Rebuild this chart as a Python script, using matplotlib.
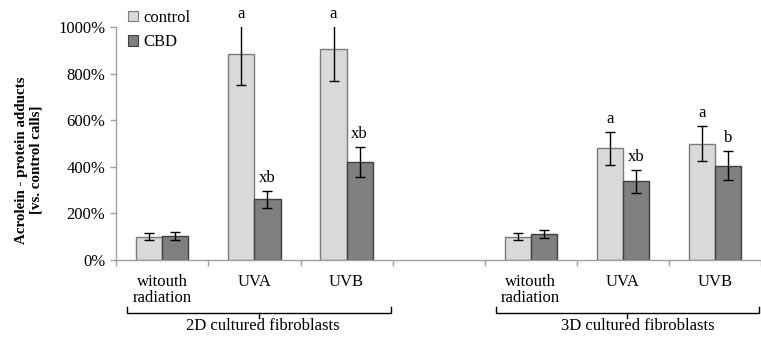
import numpy as np
import matplotlib
matplotlib.use("Agg")
import matplotlib.pyplot as plt
from matplotlib.patches import Patch
from matplotlib.ticker import FixedLocator, FuncFormatter
from matplotlib.transforms import blended_transform_factory, offset_copy

categories = ['witouth\nradiation', 'UVA', 'UVB', '', 'witouth\nradiation', 'UVA', 'UVB']
control = [100, 886, 908, np.nan, 100, 480, 500]
control_err = [15, 133, 137, np.nan, 15, 72, 75]
cbd = [105, 260, 420, np.nan, 110, 338, 405]
cbd_err = [17, 38, 64, np.nan, 17, 50, 62]
control_labels = ['', 'a', 'a', '', '', 'a', 'a']
cbd_labels = ['', 'xb', 'xb', '', '', 'xb', 'b']
group_names = ['2D cultured fibroblasts', '3D cultured fibroblasts']
series_names = ['control', 'CBD']
yticks = [0, 200, 400, 600, 800, 1000]

plt.rcParams['font.family'] = ['Liberation Serif', 'DejaVu Serif']

W, H = 761, 338
FS = 12
fig = plt.figure(figsize=(W / 100, H / 100), dpi=100)
ax = fig.add_axes([116.3 / W, 1 - 260 / H, 1 - 116.3 / W, (260 - 27.3) / H])

x = np.arange(len(categories))
bw = 0.283
c_light, c_dark = '#d9d9d9', '#7f7f7f'
ekw = dict(ecolor='black', elinewidth=1.0, capsize=3.5, capthick=1.0)
ax.bar(x - bw / 2, control, bw, yerr=control_err, color=c_light,
       edgecolor='#7a7a7a', linewidth=1.0, error_kw=ekw, zorder=2)
ax.bar(x + bw / 2, cbd, bw, yerr=cbd_err, color=c_dark,
       edgecolor='#404040', linewidth=1.0, error_kw=ekw, zorder=2)

ymax = 1000
ax.set_ylim(0, ymax)
ax.set_xlim(-0.5, 6.39)

# significance letters
toff = offset_copy(ax.transData, fig=fig, x=0, y=6.5, units='points')
for i in range(len(categories)):
    if control_labels[i]:
        ax.text(x[i] - bw / 2, min(control[i] + control_err[i], ymax), control_labels[i],
                ha='center', va='baseline', fontsize=FS, transform=toff)
    if cbd_labels[i]:
        ax.text(x[i] + bw / 2, min(cbd[i] + cbd_err[i], ymax), cbd_labels[i],
                ha='center', va='baseline', fontsize=FS, transform=toff)

# axes styling
for s in ['top', 'right']:
    ax.spines[s].set_visible(False)
for s in ['left', 'bottom']:
    ax.spines[s].set_color('#a0a0a0')
    ax.spines[s].set_linewidth(1.0)

ax.yaxis.set_major_locator(FixedLocator(yticks))
ax.yaxis.set_major_formatter(FuncFormatter(lambda v, p: f'{int(v)}%'))
ax.tick_params(axis='y', direction='out', length=4, width=1, color='#a0a0a0',
               labelsize=FS, pad=4)

ax.set_xticks(x)
ax.set_xticklabels(categories, fontsize=FS, linespacing=1.0)
ax.set_xticks(np.arange(-0.5, len(categories), 1.0), minor=True)
ax.tick_params(axis='x', which='major', length=0, pad=10)
ax.tick_params(axis='x', which='minor', direction='out', length=4, width=1,
               color='#a0a0a0')

# y label
fig.text(29 / W, 1 - 160 / H, 'Acrolein - protein adducts\n[vs. control calls]',
         rotation=90, ha='center', va='center', fontsize=10.8, fontweight='bold',
         multialignment='center', linespacing=1.2)

# legend
handles = [Patch(facecolor=c_light, edgecolor='#7a7a7a', linewidth=0.8),
           Patch(facecolor=c_dark, edgecolor='#404040', linewidth=0.8)]
fig.legend(handles, series_names, loc='upper left',
           bbox_to_anchor=(128 / W, 1 - 10 / H), frameon=False, fontsize=FS,
           handlelength=0.6, handleheight=0.6, handletextpad=0.3,
           labelspacing=0.5, borderaxespad=0, borderpad=0)

# brackets
tr = blended_transform_factory(ax.transData, fig.transFigure)
def fy(py):
    return 1 - py / H

def bracket(x0, x1, xc, xt, label):
    ax.plot([x0, x0, x1, x1], [fy(307), fy(313), fy(313), fy(307)],
            color='black', lw=1.0, transform=tr, clip_on=False)
    ax.plot([xc, xc], [fy(313), fy(318)], color='black', lw=1.0,
            transform=tr, clip_on=False)
    ax.text(xt, fy(326), label, transform=tr, ha='center', va='center',
            fontsize=FS)

bracket(-0.389, 2.478, 1.05, 1.09, group_names[0])
bracket(3.618, 6.48, 5.05, 5.16, group_names[1])

fig.savefig('out.png', dpi=100)
